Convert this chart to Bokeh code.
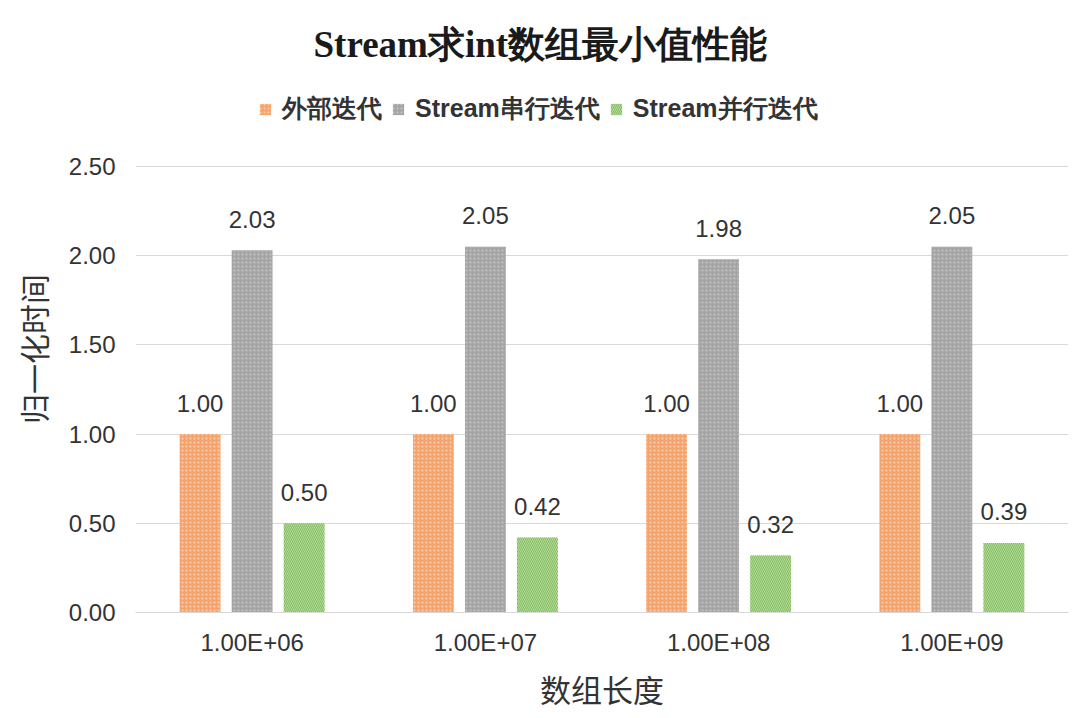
from bokeh.plotting import figure
from bokeh.models import (ColumnDataSource, FactorRange, Range1d, FixedTicker,
                          NumeralTickFormatter, LabelSet, Legend, LegendItem)
from bokeh.core.properties import value
from bokeh.transform import dodge
from bokeh.embed import file_html
from bokeh.resources import INLINE

categories = ["1.00E+06", "1.00E+07", "1.00E+08", "1.00E+09"]
series_names = ["外部迭代", "Stream串行迭代", "Stream并行迭代"]
external = [1.00, 1.00, 1.00, 1.00]
serial = [2.03, 2.05, 1.98, 2.05]
parallel = [0.50, 0.42, 0.32, 0.39]
y_ticks = [0.0, 0.5, 1.0, 1.5, 2.0, 2.5]

title_text = "Stream求int数组最小值性能"
x_label = "数组长度"
y_label = "归一化时间"

src = ColumnDataSource(dict(
    cat=categories,
    ext=external, ser=serial, par=parallel,
    ext_t=["%.2f" % v for v in external],
    ser_t=["%.2f" % v for v in serial],
    par_t=["%.2f" % v for v in parallel],
))

# frame spans from the legend row down to 0; gridded part is 0..2.5 (446 px)
FW, FH = 933, 527
Y_TOP = 2.5 * FH / 446.0
p = figure(frame_width=FW, frame_height=FH, output_backend="svg", toolbar_location=None,
           x_range=FactorRange(*categories), y_range=Range1d(0, Y_TOP),
           min_border_left=135, min_border_right=8, min_border_bottom=100,
           min_border_top=85)

p.title.text = title_text
p.title.align = "left"
p.title.offset = 178
p.title.text_font = "Liberation Serif"
p.title.text_font_style = "bold"
p.title.text_font_size = "37px"
p.title.text_color = "#1a1a1a"
p.title.standoff = 42

off = 0.223
w = 0.175
styles = [
    ("ext", -off, "#F4A46C", "dot", "#FAD0B0"),
    ("ser", 0.0, "#A5A5A5", "dot", "#C4C4C4"),
    ("par", off, "#B5DA9B", "\\", "#82BD5E"),
]
renderers = []
for key, o, col, hp, hc in styles:
    r = p.vbar(x=dodge("cat", o, range=p.x_range), top=key, width=w, source=src,
               fill_color=col, line_color=None, hatch_pattern=hp,
               hatch_color=hc, hatch_scale=4, hatch_weight=1)
    renderers.append(r)
    lbl = LabelSet(x=dodge("cat", o, range=p.x_range), y=key, text=key + "_t",
                   source=src, text_align="center", text_baseline="middle",
                   y_offset=31, text_font=value("Liberation Sans"),
                   text_font_size=value("24px"), text_color="#333333")
    p.add_layout(lbl)

legend = Legend(items=[LegendItem(label=n, renderers=[r]) for n, r in zip(series_names, renderers)],
                orientation="horizontal", location=(123, FH - 40),
                label_text_font="Liberation Sans", label_text_font_style="bold",
                label_text_font_size="25px", label_text_color="#333333",
                glyph_width=14, glyph_height=14, spacing=9, label_standoff=10,
                label_height=26, border_line_color=None, background_fill_alpha=0,
                padding=4, margin=0)
p.add_layout(legend, "center")

p.yaxis.ticker = FixedTicker(ticks=y_ticks)
p.ygrid.ticker = FixedTicker(ticks=y_ticks)
p.yaxis.formatter = NumeralTickFormatter(format="0.00")
p.yaxis.axis_line_color = None
p.yaxis.major_tick_line_color = None
p.yaxis.minor_tick_line_color = None
p.yaxis.major_label_text_font = "Liberation Sans"
p.yaxis.major_label_text_font_size = "24px"
p.yaxis.major_label_text_color = "#333333"
p.yaxis.major_label_standoff = 14
p.yaxis.axis_label = y_label
p.yaxis.axis_label_text_font = "Noto Sans CJK SC"
p.yaxis.axis_label_text_font_style = "normal"
p.yaxis.axis_label_text_font_size = "30px"
p.yaxis.axis_label_text_color = "#333333"
p.yaxis.axis_label_standoff = 11

p.xaxis.axis_line_color = "#D9D9D9"
p.xaxis.major_tick_line_color = None
p.xaxis.minor_tick_line_color = None
p.xaxis.major_label_text_font = "Liberation Sans"
p.xaxis.major_label_text_font_size = "24px"
p.xaxis.major_label_text_color = "#333333"
p.xaxis.major_label_standoff = 10
p.xaxis.axis_label = x_label
p.xaxis.axis_label_text_font = "Noto Sans CJK SC"
p.xaxis.axis_label_text_font_style = "normal"
p.xaxis.axis_label_text_font_size = "31px"
p.xaxis.axis_label_text_color = "#333333"
p.xaxis.axis_label_standoff = 7

p.xgrid.grid_line_color = None
p.ygrid.grid_line_color = "#D9D9D9"
p.ygrid.grid_line_width = 1
p.outline_line_color = None
p.x_range.range_padding = 0

open("out.html", "w").write(file_html(p, INLINE))
